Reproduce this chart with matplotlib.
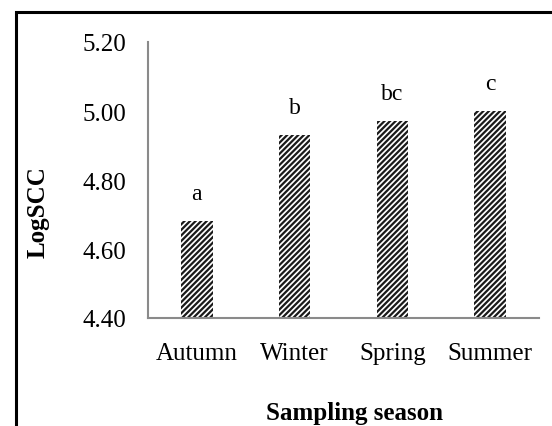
import numpy as np
import matplotlib
matplotlib.use("Agg")
from matplotlib import pyplot as plt
from matplotlib.patches import Rectangle

# data
seasons = ["Autumn", "Winter", "Spring", "Summer"]
log_scc = [4.68, 4.93, 4.97, 5.00]
letters = ["a", "b", "bc", "c"]
yticks = [4.40, 4.60, 4.80, 5.00, 5.20]

plt.rcParams['font.family'] = ['Liberation Serif', 'DejaVu Serif']
plt.rcParams['hatch.linewidth'] = 1.6

fig = plt.figure(figsize=(5.52, 4.27), dpi=100)
ax = fig.add_axes([148/552, 1 - 319/427, 391/552, 276/427])

x = np.arange(len(seasons))
ax.bar(x, log_scc, width=0.32, color="white", edgecolor="#1a1a1a",
       hatch="//////", linewidth=0)

for i, (v, lab) in enumerate(zip(log_scc, letters)):
    ax.text(x[i], v + 0.08, lab, ha="center", va="center", fontsize=17)

ax.set_xlim(-0.5, 3.5)
ax.set_ylim(4.40, 5.20)
ax.set_xticks(x)
ax.set_xticklabels(seasons, fontsize=18)
ax.set_yticks(yticks)
ax.set_yticklabels(["%.2f" % t for t in yticks], fontsize=18)
ax.tick_params(axis="x", length=0, pad=17)
ax.tick_params(axis="y", length=0, pad=16)

for s in ["top", "right"]:
    ax.spines[s].set_visible(False)
for s in ["left", "bottom"]:
    ax.spines[s].set_color("#8a8a8a")
    ax.spines[s].set_linewidth(1.5)

fig.text(38/552, 1 - 212/427, "LogSCC", rotation=90, ha="center",
         va="center", fontsize=18, fontweight="bold")
fig.text(354/552, 1 - 414/427, "Sampling season", ha="center",
         va="center", fontsize=18, fontweight="bold")

# outer frame, only top and left edges visible in the crop
fig.patches.append(Rectangle((15.5/552, -0.1), 1.2, 1.1 - 12.5/427,
                             transform=fig.transFigure, fill=False,
                             edgecolor="black", linewidth=2.2))

fig.savefig("out.png", dpi=100)
